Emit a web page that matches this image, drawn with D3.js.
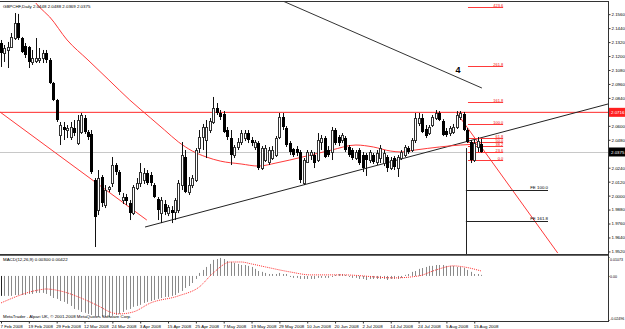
<!DOCTYPE html>
<html><head><meta charset="utf-8">
<script src="https://cdn.jsdelivr.net/npm/d3@7"></script>
<style>
body{margin:0;background:#fff}
svg{display:block}
text{font-family:"Liberation Sans",Arial,sans-serif}
</style>
</head><body>
<svg id="c" width="625" height="329"></svg>
<script>
// ---------- data ----------
const titleText = "GBPCHF,Daily  2.0448 2.0488 2.0369 2.0375";
const macdText = "MACD(12,26,9) 0.00300 0.00422";
const copyrightText = "MetaTrader - Alpari UK, \u00a9 2001-2008 MetaQuotes Software Corp.";
const firstDate = new Date(2008, 1, 7);
const barCount = 139;
const dateLabelEvery = 8;

const opens = [2.1312,2.1226,2.1252,2.1278,2.1355,2.1484,2.1355,2.1286,2.1278,2.1149,2.1157,2.1166,2.1183,2.1226,2.1166,2.0968,2.0822,2.0521,2.0590,2.0564,2.0504,2.0581,2.0452,2.0547,2.0667,2.0547,2.0530,2.0134,1.9876,2.0160,1.9919,2.0057,2.0108,2.0263,2.0203,1.9962,1.9988,1.9936,1.9850,2.0065,2.0108,2.0134,2.0194,2.0177,2.0091,1.9971,1.9850,1.9928,1.9850,1.9876,1.9859,1.9876,2.0091,2.0332,2.0031,2.0091,2.0134,2.0409,2.0504,2.0478,2.0564,2.0633,2.0753,2.0710,2.0702,2.0564,2.0495,2.0349,2.0418,2.0461,2.0495,2.0538,2.0478,2.0418,2.0452,2.0237,2.0306,2.0289,2.0323,2.0349,2.0504,2.0676,2.0581,2.0452,2.0401,2.0401,2.0375,2.0108,2.0289,2.0349,2.0349,2.0306,2.0461,2.0495,2.0392,2.0375,2.0564,2.0504,2.0478,2.0495,2.0418,2.0392,2.0323,2.0392,2.0349,2.0349,2.0306,2.0349,2.0289,2.0323,2.0280,2.0332,2.0237,2.0323,2.0237,2.0323,2.0349,2.0409,2.0392,2.0478,2.0624,2.0667,2.0573,2.0538,2.0607,2.0667,2.0710,2.0641,2.0555,2.0538,2.0547,2.0590,2.0676,2.0702,2.0564,2.0461,2.0306,2.0418,2.0448];
const highs = [2.1338,2.1295,2.1321,2.1398,2.1570,2.1562,2.1364,2.1312,2.1286,2.1252,2.1355,2.1269,2.1252,2.1252,2.1183,2.0977,2.0831,2.0633,2.0633,2.0607,2.0633,2.0650,2.0693,2.0710,2.0693,2.0564,2.0564,2.0151,2.0220,2.0177,2.0091,2.0082,2.0332,2.0280,2.0220,2.0022,2.0014,1.9962,2.0091,2.0151,2.0280,2.0237,2.0220,2.0203,2.0108,1.9988,1.9988,1.9962,1.9919,1.9910,1.9979,2.0134,2.0461,2.0392,2.0160,2.0177,2.0409,2.0564,2.0616,2.0650,2.0667,2.0848,2.0796,2.0736,2.0727,2.0590,2.0564,2.0435,2.0495,2.0564,2.0564,2.0564,2.0504,2.0478,2.0469,2.0426,2.0435,2.0418,2.0426,2.0512,2.0710,2.0710,2.0598,2.0469,2.0409,2.0426,2.0392,2.0323,2.0392,2.0392,2.0375,2.0538,2.0521,2.0512,2.0426,2.0590,2.0581,2.0521,2.0538,2.0512,2.0435,2.0409,2.0392,2.0409,2.0375,2.0366,2.0392,2.0366,2.0392,2.0435,2.0392,2.0349,2.0332,2.0340,2.0349,2.0392,2.0435,2.0426,2.0495,2.0710,2.0710,2.0702,2.0607,2.0607,2.0693,2.0736,2.0727,2.0658,2.0581,2.0598,2.0616,2.0727,2.0727,2.0719,2.0581,2.0478,2.0478,2.0504,2.0488];
const lows = [2.1106,2.1149,2.1097,2.1269,2.1338,2.1338,2.1226,2.1183,2.1097,2.1123,2.1140,2.1140,2.1140,2.1140,2.0960,2.0813,2.0633,2.0435,2.0478,2.0495,2.0478,2.0512,2.0435,2.0530,2.0530,2.0478,2.0186,1.9558,1.9833,1.9902,1.9893,2.0031,2.0074,2.0177,2.0005,1.9928,1.9919,1.9790,1.9833,2.0048,2.0074,2.0100,2.0091,2.0082,1.9979,1.9790,1.9764,1.9833,1.9824,1.9764,1.9790,1.9850,2.0048,2.0022,2.0005,2.0065,2.0117,2.0366,2.0392,2.0323,2.0538,2.0616,2.0693,2.0650,2.0538,2.0478,2.0263,2.0323,2.0392,2.0435,2.0469,2.0452,2.0426,2.0392,2.0220,2.0220,2.0289,2.0263,2.0306,2.0332,2.0486,2.0564,2.0418,2.0349,2.0332,2.0340,2.0108,2.0091,2.0280,2.0306,2.0237,2.0289,2.0392,2.0323,2.0332,2.0306,2.0435,2.0426,2.0452,2.0375,2.0332,2.0306,2.0306,2.0263,2.0203,2.0169,2.0280,2.0272,2.0263,2.0280,2.0254,2.0203,2.0220,2.0220,2.0160,2.0306,2.0332,2.0358,2.0375,2.0452,2.0598,2.0538,2.0495,2.0521,2.0590,2.0650,2.0641,2.0512,2.0504,2.0512,2.0530,2.0573,2.0650,2.0555,2.0452,2.0280,2.0289,2.0375,2.0369];
const closes = [2.1226,2.1269,2.1278,2.1364,2.1484,2.1355,2.1235,2.1209,2.1149,2.1183,2.1183,2.1183,2.1226,2.1166,2.0968,2.0822,2.0650,2.0607,2.0564,2.0581,2.0590,2.0538,2.0650,2.0693,2.0547,2.0504,2.0203,1.9816,2.0151,1.9936,2.0048,2.0074,2.0263,2.0203,2.0031,1.9988,1.9953,1.9850,2.0074,2.0108,2.0203,2.0194,2.0108,2.0108,1.9988,1.9876,1.9962,1.9859,1.9902,1.9850,1.9962,2.0108,2.0349,2.0031,2.0091,2.0151,2.0392,2.0504,2.0590,2.0590,2.0641,2.0753,2.0710,2.0676,2.0547,2.0504,2.0349,2.0418,2.0461,2.0538,2.0538,2.0478,2.0452,2.0461,2.0237,2.0409,2.0409,2.0392,2.0392,2.0495,2.0676,2.0590,2.0435,2.0375,2.0349,2.0366,2.0134,2.0306,2.0375,2.0375,2.0280,2.0478,2.0495,2.0332,2.0349,2.0564,2.0452,2.0452,2.0521,2.0392,2.0349,2.0323,2.0375,2.0280,2.0237,2.0306,2.0375,2.0289,2.0366,2.0409,2.0366,2.0237,2.0306,2.0246,2.0332,2.0375,2.0418,2.0375,2.0478,2.0667,2.0667,2.0547,2.0512,2.0590,2.0676,2.0710,2.0650,2.0521,2.0521,2.0581,2.0590,2.0693,2.0710,2.0564,2.0461,2.0306,2.0452,2.0469,2.0375];

// red moving average (bar index, price)
const maIndex = [10,11,14,19,25,31,37,43,47,51,55,59,63,69,74,79,83,89,95,102,107,112,115,119,126,132,138];
const maValues = [2.1656,2.1622,2.1536,2.1338,2.1166,2.0994,2.0822,2.0667,2.0564,2.0461,2.0383,2.0332,2.0297,2.0272,2.0254,2.0280,2.0306,2.0349,2.0392,2.0435,2.0418,2.0383,2.0375,2.0392,2.0418,2.0435,2.0443];

// MACD main (histogram) per bar
const macdMain = [-0.0113,-0.0113,-0.0113,-0.0113,-0.0108,-0.0108,-0.0108,-0.0108,-0.0102,-0.0102,-0.0096,-0.0096,-0.0096,-0.0102,-0.0113,-0.0125,-0.0130,-0.0142,-0.0147,-0.0158,-0.0170,-0.0187,-0.0192,-0.0204,-0.0209,-0.0215,-0.0221,-0.0226,-0.0232,-0.0232,-0.0232,-0.0232,-0.0226,-0.0221,-0.0215,-0.0204,-0.0192,-0.0187,-0.0175,-0.0170,-0.0164,-0.0153,-0.0147,-0.0142,-0.0136,-0.0130,-0.0125,-0.0119,-0.0119,-0.0113,-0.0108,-0.0096,-0.0085,-0.0068,-0.0057,-0.0040,-0.0017,0.0017,0.0034,0.0051,0.0068,0.0091,0.0096,0.0102,0.0096,0.0085,0.0079,0.0074,0.0068,0.0062,0.0062,0.0057,0.0051,0.0040,0.0028,0.0023,0.0017,0.0011,0.0011,0.0011,0.0017,0.0011,0.0011,-0.0006,-0.0011,-0.0011,-0.0017,-0.0017,-0.0017,-0.0017,-0.0017,-0.0011,-0.0011,-0.0011,-0.0011,-0.0006,0.0006,0.0011,0.0011,0.0006,-0.0006,-0.0011,-0.0011,-0.0017,-0.0017,-0.0023,-0.0017,-0.0017,-0.0017,-0.0017,-0.0017,-0.0023,-0.0017,-0.0017,-0.0017,-0.0011,0.0006,0.0011,0.0023,0.0028,0.0040,0.0045,0.0051,0.0057,0.0057,0.0062,0.0062,0.0062,0.0057,0.0057,0.0057,0.0051,0.0051,0.0045,0.0034,0.0023,0.0011,0.0011,0.0006];
// MACD signal (bar index, value)
const signalIndex = [0,11,13,17,23,28,32,34,38,43,51,57,61,66,69,72,76,83,89,98,113,120,125,130,133,138];
const signalValues = [-0.0153,-0.0079,-0.0074,-0.0085,-0.0125,-0.0170,-0.0209,-0.0215,-0.0204,-0.0153,-0.0113,-0.0062,0.0017,0.0079,0.0079,0.0068,0.0051,0.0023,0.0006,0.0006,-0.0011,0.0000,0.0034,0.0057,0.0051,0.0028];

const priceTicks = [2.1560,2.1440,2.1320,2.1200,2.1080,2.0960,2.0840,2.0720,2.0600,2.0480,2.0360,2.0240,2.0120,2.0000,1.9880,1.9760,1.9640,1.9520];
const macdTicks = [0.01073, 0, -0.02496];
const macdTickLabels = ["0.01073", "0.00", "-0.02496"];

const resistanceLevel = 2.0716;
const currentPrice = 2.0375;

// drawn objects (anchors: bar index, price)
const redTrendLeft = [[-0.3, 2.0719], [41.9, 1.9790]];
const redTrendRight = [[131, 2.0710], [160, 1.9506]];
const blackTrendTop = [[81, 2.1673], [138.2, 2.0925]];
const blackTrendUp = [[41.4, 1.9730], [138, 2.0498]];
const waveLabel = {text: "4", index: 130.6, price: 2.1050};

const fibLevels = [0, 23.6, 38.2, 50, 61.8, 100, 161.8, 261.8, 423.6];
const fibLabels = ["0.0", "23.6", "38.2", "50.0", "61.8", "100.0", "161.8", "261.8", "423.6"];
const fibLow = 2.0306, fibHigh = 2.0616;
const fibSpan = [134.2, 144.3];

const feLabels = ["FE 100.0", "FE 161.8"];
const feValues = [2.0048, 1.9781];
const feSpan = [133.6, 157.2];
const feVertical = {index: 133.6, top: 2.0409};

// ---------- layout ----------
const svg = d3.select("#c");
const plotR = 608, priceTop = 2, priceBot = 254, macdTop = 255, macdBot = 321;
const x = d3.scaleLinear().domain([0, barCount - 1]).range([1, 481.2]);
const y = d3.scaleLinear().domain([1.9498, 2.1656]).range([254, 3]);
const ym = d3.scaleLinear().domain([-0.02496, 0.01073]).range([320, 257]);
const FS = 4.4;

const dates = [];
{ const d = new Date(firstDate); while (dates.length < barCount) { const w = d.getDay(); if (w !== 0 && w !== 6) dates.push(new Date(d)); d.setDate(d.getDate() + 1); } }
const fmtDate = d3.timeFormat("%-d %b %Y");

const defs = svg.append("defs");
defs.append("clipPath").attr("id", "cp").append("rect").attr("x", 0).attr("y", priceTop).attr("width", plotR).attr("height", priceBot - priceTop);
defs.append("clipPath").attr("id", "cm").append("rect").attr("x", 0).attr("y", macdTop).attr("width", plotR).attr("height", macdBot - macdTop);

const gp = svg.append("g").attr("clip-path", "url(#cp)");

// current price line
gp.append("line").attr("x1", 0).attr("x2", plotR).attr("y1", Math.round(y(currentPrice)) + 0.5).attr("y2", Math.round(y(currentPrice)) + 0.5).attr("stroke", "#c8c8c8");

// resistance line
gp.append("line").attr("x1", 0).attr("x2", plotR).attr("y1", y(resistanceLevel)).attr("y2", y(resistanceLevel)).attr("stroke", "#ff2a2a").attr("stroke-width", 1);

const seg = (a, col) => gp.append("line").attr("x1", x(a[0][0])).attr("y1", y(a[0][1])).attr("x2", x(a[1][0])).attr("y2", y(a[1][1])).attr("stroke", col).attr("stroke-width", 1);
seg(redTrendLeft, "#ff3a3a");
seg(redTrendRight, "#ff3a3a");
seg(blackTrendTop, "#333");
// ray to right edge
{
  const [[i0, p0], [i1, p1]] = blackTrendUp;
  const iEnd = x.invert(plotR);
  const pEnd = p0 + (p1 - p0) * (iEnd - i0) / (i1 - i0);
  gp.append("line").attr("x1", x(i0)).attr("y1", y(p0)).attr("x2", x(iEnd)).attr("y2", y(pEnd)).attr("stroke", "#222").attr("stroke-width", 1);
}

// moving average
const maLine = d3.line().x((d, k) => x(maIndex[k])).y(d => y(d)).curve(d3.curveMonotoneX);
gp.append("path").attr("d", maLine(maValues)).attr("fill", "none").attr("stroke", "#ff3a3a").attr("stroke-width", 1);

// fib retracement
fibLevels.forEach((lv, k) => {
  const p = fibLow + (fibHigh - fibLow) * lv / 100;
  const yy = Math.round(y(p)) + 0.5;
  gp.append("line").attr("x1", x(fibSpan[0])).attr("x2", x(fibSpan[1])).attr("y1", yy).attr("y2", yy).attr("stroke", "#ff3a3a");
  gp.append("text").attr("x", x(fibSpan[1])).attr("y", yy - 1).attr("text-anchor", "end").attr("font-size", 3.9).attr("fill", "#e00").text(fibLabels[k]);
});

// fib expansion
gp.append("line").attr("x1", Math.round(x(feVertical.index)) + 0.5).attr("x2", Math.round(x(feVertical.index)) + 0.5).attr("y1", y(feVertical.top)).attr("y2", priceBot).attr("stroke", "#222");
feValues.forEach((p, k) => {
  const yy = Math.round(y(p)) + 0.5;
  gp.append("line").attr("x1", x(feSpan[0])).attr("x2", x(feSpan[1])).attr("y1", yy).attr("y2", yy).attr("stroke", "#222");
  gp.append("text").attr("x", x(feSpan[1])).attr("y", yy - 1.5).attr("text-anchor", "end").attr("font-size", FS).attr("fill", "#000").text(feLabels[k]);
});

// candles
const cg = gp.append("g");
for (let i = 0; i < barCount; i++) {
  const cx = Math.round(x(i));
  const o = opens[i], h = highs[i], l = lows[i], c = closes[i];
  cg.append("line").attr("x1", cx + 0.5).attr("x2", cx + 0.5).attr("y1", y(h)).attr("y2", y(l)).attr("stroke", "#111");
  const top = y(Math.max(o, c)), bot = y(Math.min(o, c));
  if (c >= o) {
    cg.append("rect").attr("x", cx - 0.5).attr("y", Math.round(top) + 0.5).attr("width", 2).attr("height", Math.max(1, Math.round(bot - top))).attr("fill", "#fff").attr("stroke", "#333");
  } else {
    cg.append("rect").attr("x", cx - 1).attr("y", Math.round(top)).attr("width", 3).attr("height", Math.max(1, Math.round(bot - top))).attr("fill", "#000");
  }
}

gp.append("text").attr("x", x(waveLabel.index)).attr("y", y(waveLabel.price)).attr("font-size", 9).attr("font-weight", "bold").attr("fill", "#000").text(waveLabel.text);

// title
svg.append("text").attr("x", 3).attr("y", 8).attr("font-size", FS).attr("fill", "#000").text(titleText);

// ---------- MACD ----------
const gm = svg.append("g").attr("clip-path", "url(#cm)");
macdMain.forEach((v, i) => {
  const cx = Math.round(x(i)) + 0.5;
  gm.append("line").attr("x1", cx).attr("x2", cx).attr("y1", ym(0)).attr("y2", ym(v)).attr("stroke", i === 0 ? "#222" : "#8a8a8a");
});
const sigLine = d3.line().x((d, k) => x(signalIndex[k])).y(d => ym(d)).curve(d3.curveMonotoneX);
gm.append("path").attr("d", sigLine(signalValues)).attr("fill", "none").attr("stroke", "#ff3030").attr("stroke-width", 1).attr("stroke-dasharray", "1 1");
svg.append("text").attr("x", 3).attr("y", 261).attr("font-size", FS).attr("fill", "#000").text(macdText);
svg.append("text").attr("x", 3).attr("y", 318).attr("font-size", FS).attr("fill", "#000").text(copyrightText);

// ---------- frame ----------
const fr = svg.append("g").attr("stroke", "#333").attr("stroke-width", 1);
fr.append("line").attr("x1", 0).attr("x2", plotR + 0.5).attr("y1", 1.5).attr("y2", 1.5);
fr.append("line").attr("x1", plotR + 0.5).attr("x2", plotR + 0.5).attr("y1", 1).attr("y2", macdBot + 1);
fr.append("line").attr("x1", 0).attr("x2", plotR).attr("y1", priceBot + 0.5).attr("y2", priceBot + 0.5);
fr.append("line").attr("x1", 0).attr("x2", plotR).attr("y1", macdTop + 0.5).attr("y2", macdTop + 0.5).attr("stroke", "#666");
fr.append("line").attr("x1", 0).attr("x2", plotR + 0.5).attr("y1", macdBot + 0.5).attr("y2", macdBot + 0.5);

// price axis (labels hidden behind the price markers are skipped)
const markerLevels = [resistanceLevel, currentPrice];
const visibleTicks = priceTicks.filter(t => markerLevels.every(m => Math.abs(y(t) - y(m)) > 6));
const ay = svg.append("g").attr("transform", `translate(${plotR + 0.5},0)`)
  .call(d3.axisRight(y).tickValues(visibleTicks).tickSize(2).tickPadding(1).tickFormat(d3.format(".4f")));
ay.select(".domain").remove();
ay.selectAll("text").attr("font-size", FS).attr("font-family", "Liberation Sans, Arial, sans-serif").attr("fill", "#000");
ay.selectAll("line").attr("stroke", "#333");

// macd axis
const am = svg.append("g").attr("transform", `translate(${plotR + 0.5},0)`)
  .call(d3.axisRight(ym).tickValues(macdTicks).tickSize(1).tickPadding(0.5).tickFormat((d, k) => macdTickLabels[k]));
am.select(".domain").remove();
am.selectAll("text").attr("font-size", 3.6).attr("font-family", "Liberation Sans, Arial, sans-serif").attr("fill", "#000");
am.selectAll(".tick").filter((d, k) => k === 0).select("text").attr("dy", "0.9em");
am.selectAll(".tick").filter((d, k) => k === 2).select("text").attr("dy", "-0.1em");
am.selectAll("line").attr("stroke", "#333");

// price markers
const marker = (p, bg, fg) => {
  const yy = y(p);
  svg.append("rect").attr("x", plotR + 1).attr("y", yy - 4.5).attr("width", 625 - plotR - 1).attr("height", 9).attr("fill", bg);
  svg.append("text").attr("x", plotR + 3).attr("y", yy + 1.6).attr("font-size", FS).attr("fill", fg).text(d3.format(".4f")(p));
};
marker(resistanceLevel, "#ff2020", "#fff");
marker(currentPrice, "#000", "#fff");

// date axis
const ax = svg.append("g").attr("transform", `translate(0,${macdBot + 0.5})`)
  .call(d3.axisBottom(x).tickValues(d3.range(0, barCount, dateLabelEvery)).tickSize(2).tickPadding(1).tickFormat(i => fmtDate(dates[i])));
ax.select(".domain").remove();
ax.selectAll("text").attr("font-size", FS).attr("font-family", "Liberation Sans, Arial, sans-serif").attr("text-anchor", "start").attr("dx", -1).attr("fill", "#000");
ax.selectAll("line").attr("stroke", "#333");
</script>
</body></html>
